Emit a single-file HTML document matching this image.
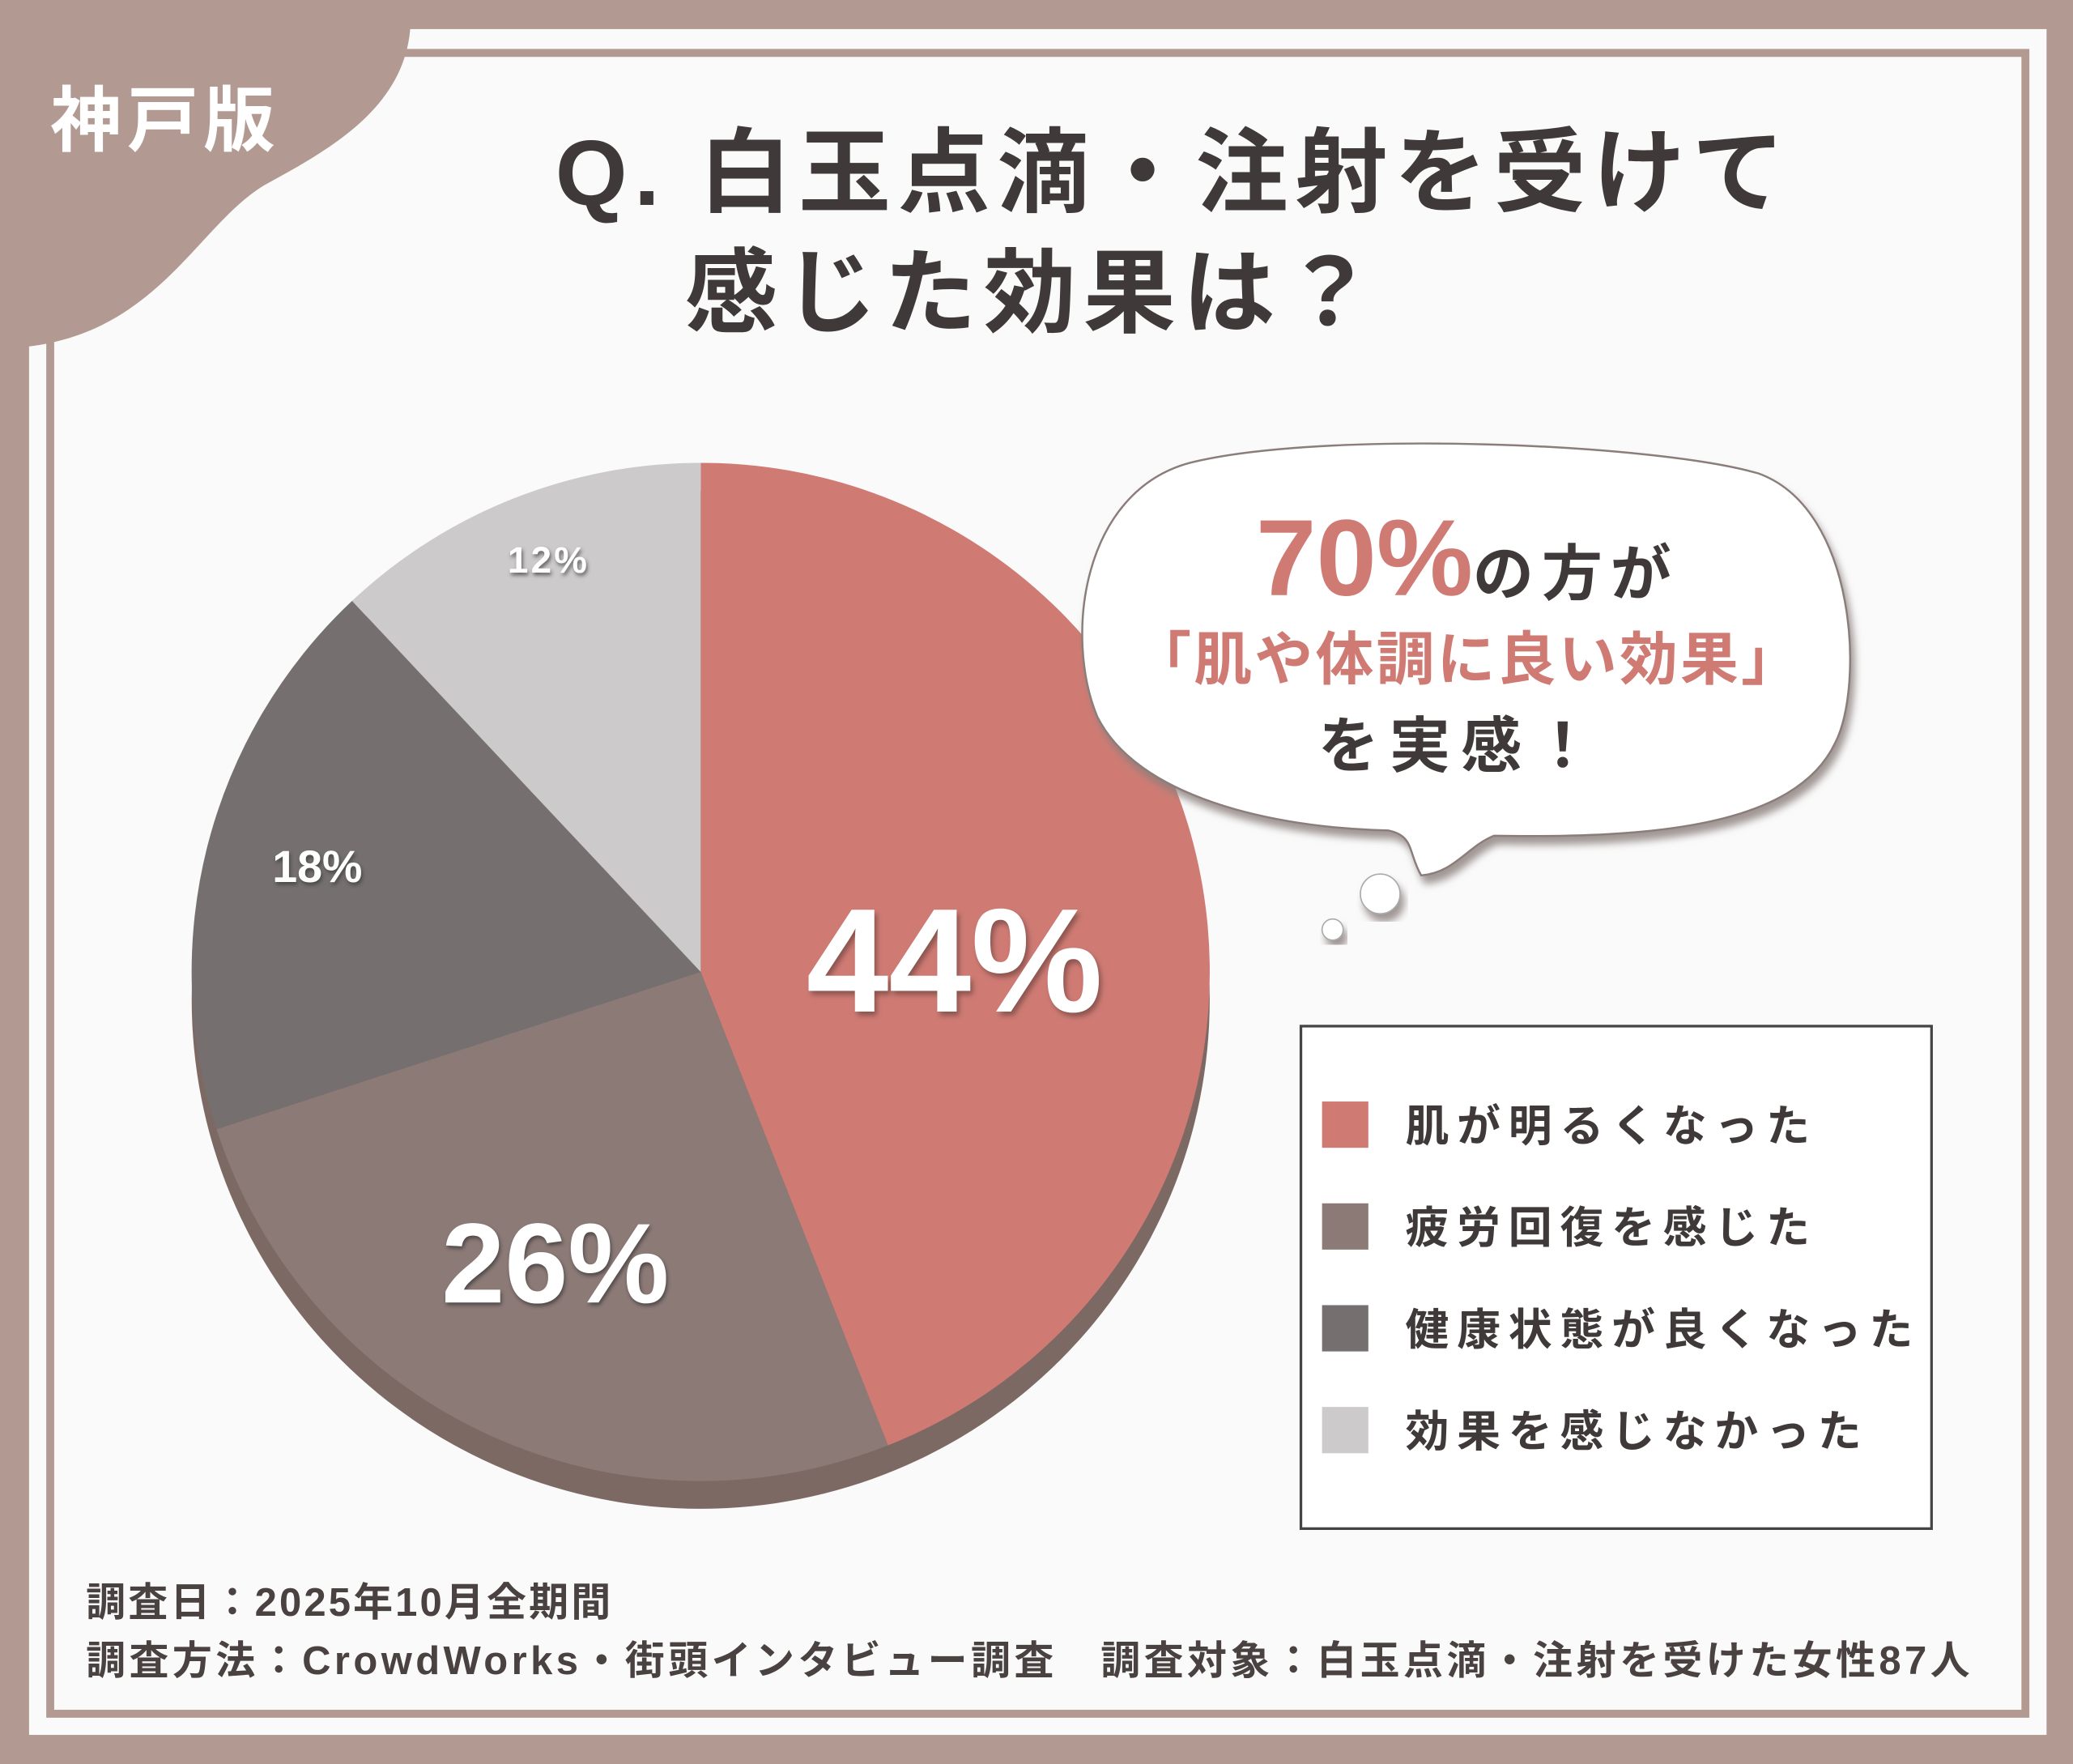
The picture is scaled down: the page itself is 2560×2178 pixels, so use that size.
<!DOCTYPE html>
<html><head><meta charset="utf-8"><style>
html,body{margin:0;padding:0;background:#b29a92;}
svg{display:block;}
text{font-family:"Liberation Sans","Noto Sans CJK JP",sans-serif;}
</style></head><body>
<svg width="2560" height="2178" viewBox="0 0 1568 1334" xmlns="http://www.w3.org/2000/svg">
<defs>
<filter id="ds" x="-10%" y="-10%" width="130%" height="130%"><feDropShadow dx="3" dy="6" stdDeviation="3" flood-color="#8a7f7c" flood-opacity="0.8"/></filter>
<filter id="ts" x="-10%" y="-10%" width="130%" height="140%"><feDropShadow dx="2" dy="3" stdDeviation="2" flood-color="#7a4a45" flood-opacity="0.8"/></filter>
<filter id="ts2" x="-10%" y="-10%" width="130%" height="140%"><feDropShadow dx="1" dy="2" stdDeviation="1.5" flood-color="#333" flood-opacity="0.7"/></filter>
</defs>
<rect width="1568" height="1334" fill="#b29a92"/>
<rect x="22" y="22" width="1526" height="1290" fill="#fafafa"/>
<rect x="38" y="40" width="1494" height="1256" fill="none" stroke="#b29a92" stroke-width="6"/>
<path d="M0,0 L310,0 C318,75 255,110 200,140 C150,170 120,250 22,262 L0,262 Z" fill="#b29a92"/>
<text x="38" y="110" font-size="54" font-weight="bold" fill="#fff" letter-spacing="4">神戸版</text>
<text x="420" y="155" font-size="70" font-weight="bold" fill="#3f3a39" textLength="930" lengthAdjust="spacing">Q. 白玉点滴・注射を受けて</text>
<text x="518" y="246" font-size="70" font-weight="bold" fill="#3f3a39" textLength="522" lengthAdjust="spacing">感じた効果は？</text>
<!-- pie -->
<circle cx="530" cy="756" r="385" fill="#7d6964"/>
<path d="M530,735 L530,350 A385,385 0 0,1 671.7,1093 Z" fill="#cf7b74"/>
<path d="M530,735 L671.7,1093 A385,385 0 0,1 163.8,854 Z" fill="#8c7a77"/>
<path d="M530,735 L163.8,854 A385,385 0 0,1 266.3,454.4 Z" fill="#75706f"/>
<path d="M530,735 L266.3,454.4 A385,385 0 0,1 530,350 Z" fill="#cccaca"/>
<text x="722" y="765" font-size="112" font-weight="bold" fill="#fff" text-anchor="middle" filter="url(#ts)">44%</text>
<text x="420" y="985" font-size="86" font-weight="bold" fill="#fff" text-anchor="middle" filter="url(#ts2)">26%</text>
<text x="240" y="667" font-size="34" font-weight="bold" fill="#fff" text-anchor="middle" filter="url(#ts2)">18%</text>
<text x="415" y="433" font-size="28" font-weight="bold" fill="#fff" text-anchor="middle" letter-spacing="2" filter="url(#ts2)">12%</text>
<!-- bubble -->
<path d="M900,350 C1000,325 1250,335 1330,358 C1405,385 1410,520 1388,562 C1358,625 1250,634 1130,632 C1110,640 1100,660 1075,662 C1065,645 1070,632 1050,628 C960,626 860,602 830,542 C805,482 818,372 900,350 Z" fill="#fff" stroke="#8a7d7a" stroke-width="1.5" filter="url(#ds)"/>
<circle cx="1044" cy="676" r="15" fill="#fff" stroke="#aaa" stroke-width="1" filter="url(#ds)"/>
<circle cx="1008" cy="703" r="8" fill="#fff" stroke="#aaa" stroke-width="1" filter="url(#ds)"/>
<text x="950" y="450" font-size="82" font-weight="bold" fill="#cf7b74">70%<tspan font-size="46" fill="#3f3a39" letter-spacing="6">の方が</tspan></text>
<text x="1110" y="514" font-size="44" font-weight="bold" fill="#cf7b74" text-anchor="middle" letter-spacing="2">「肌や体調に良い効果」</text>
<text x="1105" y="580" font-size="46" font-weight="bold" fill="#3f3a39" text-anchor="middle" letter-spacing="8">を実感！</text>
<!-- legend -->
<rect x="984" y="776" width="477" height="380" fill="#fff" stroke="#444" stroke-width="2"/>
<rect x="1000" y="833" width="35" height="35" fill="#cf7b74"/>
<rect x="1000" y="910" width="35" height="35" fill="#8c7a77"/>
<rect x="1000" y="987" width="35" height="35" fill="#75706f"/>
<rect x="1000" y="1064" width="35" height="35" fill="#cccaca"/>
<g font-size="33" font-weight="bold" fill="#3f3a39" letter-spacing="6">
<text x="1063" y="863">肌が明るくなった</text>
<text x="1063" y="940">疲労回復を感じた</text>
<text x="1063" y="1017">健康状態が良くなった</text>
<text x="1063" y="1094">効果を感じなかった</text>
</g>
<g font-size="30" font-weight="bold" fill="#4a4240">
<text x="65" y="1222" textLength="397" lengthAdjust="spacing">調査日：2025年10月全期間</text>
<text x="65" y="1266" textLength="1425" lengthAdjust="spacing">調査方法：CrowdWorks・街頭インタビュー調査　調査対象：白玉点滴・注射を受けた女性87人</text>
</g>
</svg>
</body></html>
